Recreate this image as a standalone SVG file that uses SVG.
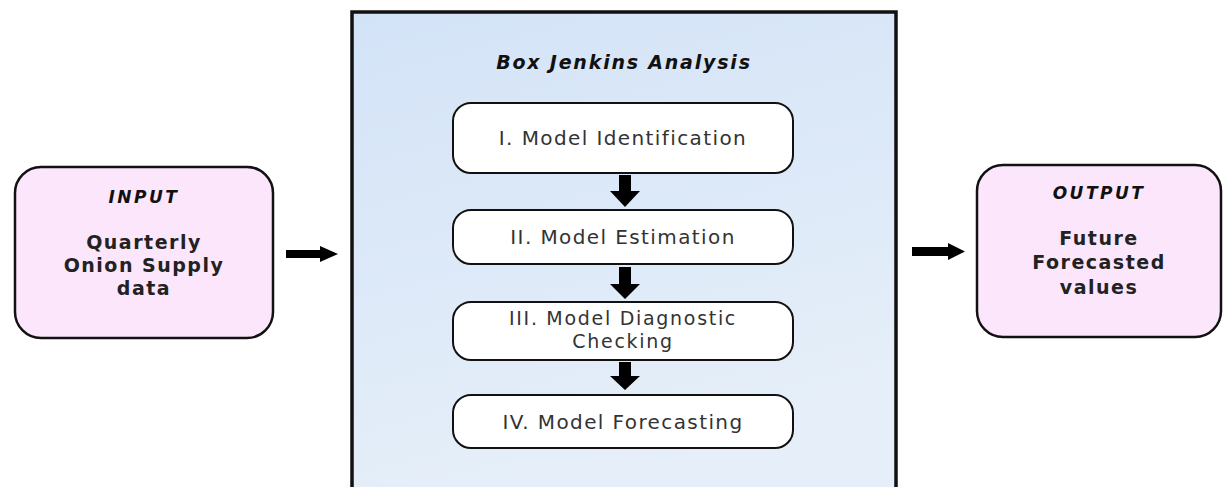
<svg xmlns="http://www.w3.org/2000/svg" width="1223" height="487" viewBox="0 0 1223 487">
  <defs>
    <linearGradient id="panelFill" x1="0" y1="0" x2="0.3" y2="1">
      <stop offset="0" stop-color="#d3e3f7"/>
      <stop offset="1" stop-color="#e6eff9"/>
    </linearGradient>
    <style>
      .io { fill: #fce6fb; stroke: #111; stroke-width: 2.5; }
      .step { fill: #ffffff; stroke: #111; stroke-width: 2; }
      .panel { fill: url(#panelFill); stroke: #111; stroke-width: 3.5; }
      .head { font-family: "DejaVu Sans", "Liberation Sans", sans-serif; font-weight: 700; font-style: italic; fill: #111; text-anchor: middle; }
      .body { font-family: "DejaVu Sans", "Liberation Sans", sans-serif; font-weight: 700; fill: #222; text-anchor: middle; font-size: 19px; letter-spacing: 1.5px; }
      .label { font-family: "DejaVu Sans", "Liberation Sans", sans-serif; font-weight: 400; fill: #333; text-anchor: middle; font-size: 20px; letter-spacing: 1.4px; }
      .label.tight { font-size: 19px; letter-spacing: 1.7px; }
      .arrow { fill: #000; }
    </style>
  </defs>
  <rect width="1223" height="487" fill="#ffffff"/>

  <!-- Input node -->
  <g id="input">
    <rect class="io" x="15" y="167" width="258" height="171" rx="26"/>
    <text class="head" x="144" y="203" font-size="17" letter-spacing="2.5">INPUT</text>
    <text class="body" x="144" y="249">Quarterly</text>
    <text class="body" x="144" y="272">Onion Supply</text>
    <text class="body" x="144" y="295">data</text>
  </g>

  <!-- Box-Jenkins panel with its steps -->
  <g id="box-jenkins">
    <rect class="panel" x="352" y="12" width="544" height="490"/>
    <text class="head" x="624" y="69" font-size="19" letter-spacing="1.8">Box Jenkins Analysis</text>
  </g>
  <g id="step1">
    <rect class="step" x="453" y="103" width="340" height="70" rx="18"/>
    <text class="label" x="623" y="145">I. Model Identification</text>
  </g>
  <g id="step2">
    <rect class="step" x="453" y="210" width="340" height="54" rx="18"/>
    <text class="label" x="623" y="244">II. Model Estimation</text>
  </g>
  <g id="step3">
    <rect class="step" x="453" y="302" width="340" height="58" rx="18"/>
    <text class="label tight" x="623" y="325">III. Model Diagnostic</text>
    <text class="label tight" x="623" y="348">Checking</text>
  </g>
  <g id="step4">
    <rect class="step" x="453" y="395" width="340" height="53" rx="18"/>
    <text class="label" x="623" y="429">IV. Model Forecasting</text>
  </g>

  <!-- Output node -->
  <g id="output">
    <rect class="io" x="977" y="165" width="244" height="172" rx="26"/>
    <text class="head" x="1099" y="199" font-size="17" letter-spacing="2.5">OUTPUT</text>
    <text class="body" x="1099" y="245">Future</text>
    <text class="body" x="1099" y="269">Forecasted</text>
    <text class="body" x="1099" y="294">values</text>
  </g>

  <!-- Connectors: block arrows -->
  <g id="connectors">
    <polygon class="arrow" points="286,250 320,250 320,246 338,254 320,262 320,258 286,258"/>
    <polygon class="arrow" points="912,247 948,247 948,243 965,251.5 948,260 948,256 912,256"/>
    <polygon class="arrow" points="619,175 631,175 631,191 640,191 625,207 610,191 619,191"/>
    <polygon class="arrow" points="619,267 631,267 631,284 640,284 625,299 610,284 619,284"/>
    <polygon class="arrow" points="619,362 631,362 631,376 640,376 625,390 610,376 619,376"/>
  </g>
</svg>
